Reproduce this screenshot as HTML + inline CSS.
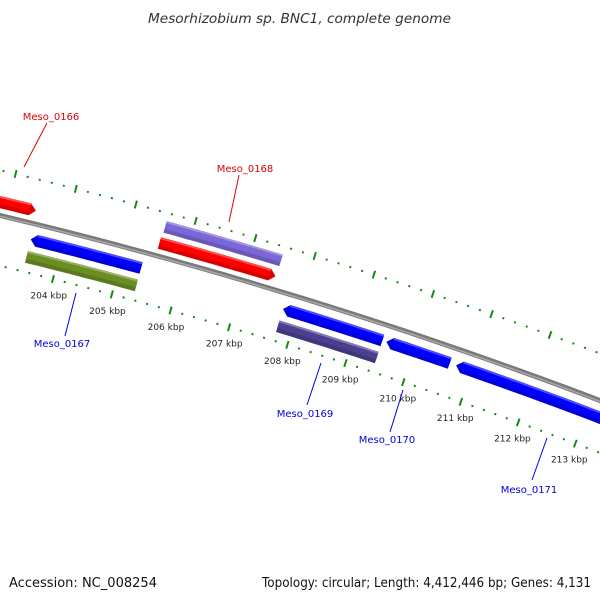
<!DOCTYPE html>
<html><head><meta charset="utf-8"><style>
body{margin:0;background:#fff;width:600px;height:600px;overflow:hidden;font-family:"DejaVu Sans","Liberation Sans",sans-serif}
svg{display:block}
</style></head><body>
<svg id="c" width="600" height="600" viewBox="0 0 600 600">
<text x="148" y="23" textLength="303" lengthAdjust="spacingAndGlyphs" font-size="13" font-style="italic" fill="#333">Mesorhizobium sp. BNC1, complete genome</text>
<text x="9" y="587" textLength="148" lengthAdjust="spacingAndGlyphs" font-size="13" fill="#111">Accession: NC_008254</text>
<text x="262" y="587" textLength="329" lengthAdjust="spacingAndGlyphs" font-size="13" fill="#111">Topology: circular; Length: 4,412,446 bp; Genes: 4,131</text>
<g id="g"></g>
</svg>
<script>
const tickKbp = [204,205,206,207,208,209,210,211,212,213];
const geneNames = ["Meso_0166","Meso_0167","Meso_0167","Meso_0168","Meso_0168","Meso_0169","Meso_0169","Meso_0170","Meso_0171"];
const geneStart = [200.0,203.49,203.49,205.53,205.55,207.76,207.76,209.53,210.73];
const geneEnd   = [203.46,205.35,205.35,207.49,207.50,209.46,209.46,210.62,215.5];
const geneStrand= [1,-1,-1,1,1,-1,-1,-1,-1];
const geneTrack = [1,1,2,1,2,1,2,1,1];
const geneColor = ["#ff0000","#0000ff","#6b8e23","#ff0000","#7b68d8","#0000ff","#4b3f8f","#0000ff","#0000ff"];
const labels = [
 {t:"Meso_0166",c:"#e00000",x:51,y:120,l:[47,123,24,167]},
 {t:"Meso_0168",c:"#e00000",x:245,y:172,l:[239,175,229,222]},
 {t:"Meso_0167",c:"#0000e0",x:62,y:347,l:[76,293,65,336]},
 {t:"Meso_0169",c:"#0000e0",x:305,y:417,l:[321,363,307,405]},
 {t:"Meso_0170",c:"#0000e0",x:387,y:443,l:[403,390,390,432]},
 {t:"Meso_0171",c:"#0000e0",x:529,y:493,l:[547,438,532,480]}
];
const CX=-1146, CY=4996, R=4916, P0=204, PHI0=0.2489, K=0.01251;
function ang(p){return PHI0+(p-P0)*K;}
function pt(p,off){const a=ang(p),r=R+off;return [CX+r*Math.sin(a), CY-r*Math.cos(a)];}
const G=document.getElementById('g');
const NS="http://www.w3.org/2000/svg";
function mk(tag,attrs){const e=document.createElementNS(NS,tag);for(const k in attrs)e.setAttribute(k,attrs[k]);G.appendChild(e);return e;}
function arcPath(p1,p2,off){let d="";for(let i=0;i<=40;i++){const q=pt(p1+(p2-p1)*i/40,off);d+=(i?"L":"M")+q[0].toFixed(1)+","+q[1].toFixed(1);}return d;}
let e=mk('path',{d:arcPath(199,217,0),stroke:"#7a7a7a","stroke-width":5,fill:"none"});


e=mk('path',{d:arcPath(199,217,-0.8),stroke:"#a8a8a8","stroke-width":1.5,fill:"none"});


[[-49,"inner"],[44,"outer"]].forEach(([off,nm])=>{
 for(let p=199;p<=216.01;p+=0.2){
  const pr=Math.round(p*5)/5, major=Math.abs(pr-Math.round(pr))<0.01;
  const a=pt(pr,off+(major?4:1)), b=pt(pr,off-(major?4:1));
  e=mk('line',{x1:a[0],y1:a[1],x2:b[0],y2:b[1],stroke:"#148a14","stroke-width":2});
  
  
 }
});
tickKbp.forEach(k=>{
 const q=pt(k,-66);
 e=mk('text',{x:q[0],y:q[1]+3,"text-anchor":"middle","font-size":"9",fill:"#222"});
 e.textContent=k+" kbp";
 
 
});
function shade(c,f){const n=parseInt(c.slice(1),16);let r=n>>16,g=(n>>8)&255,b=n&255;
 const m=x=>Math.max(0,Math.min(255,Math.round(f>0?x+(255-x)*f:x*(1+f))));return "rgb("+m(r)+","+m(g)+","+m(b)+")";}
geneNames.forEach((nm,i)=>{
 const s=geneStrand[i], tr=geneTrack[i];
 const mid=s>0?(tr==1?13:30):(tr==1?-16:-34);
 const h=6, hd=tr==1?0.1:0;
 const top=mid+h, bot=mid-h;
 let p1=geneStart[i], p2=geneEnd[i];
 const pts=[];
 const N=20;
 if(s>0){
  for(let j=0;j<=N;j++)pts.push(pt(p1+(p2-hd-p1)*j/N,top));
  if(hd)pts.push(pt(p2,mid));
  for(let j=N;j>=0;j--)pts.push(pt(p1+(p2-hd-p1)*j/N,bot));
 } else {
  if(hd)pts.push(pt(p1,mid));
  for(let j=0;j<=N;j++)pts.push(pt(p1+hd+(p2-p1-hd)*j/N,top));
  for(let j=N;j>=0;j--)pts.push(pt(p1+hd+(p2-p1-hd)*j/N,bot));
 }
 const grp=document.createElementNS(NS,'g');G.appendChild(grp);
 
 
 const poly=document.createElementNS(NS,'polygon');
 poly.setAttribute('points',pts.map(q=>q[0].toFixed(1)+","+q[1].toFixed(1)).join(" "));
 poly.setAttribute('fill',shade(geneColor[i],-0.15));
 grp.appendChild(poly);
 const a1=s>0?p1:p1+hd, a2=s>0?p2-hd:p2;
 const band=document.createElementNS(NS,'path');
 band.setAttribute('d',arcPath(a1,a2,top-1.5));
 band.setAttribute('stroke',shade(geneColor[i],0.3));band.setAttribute('stroke-width',3);band.setAttribute('fill','none');
 grp.appendChild(band);
 const band2=document.createElementNS(NS,'path');
 band2.setAttribute('d',arcPath(a1,a2,mid+1));
 band2.setAttribute('stroke',geneColor[i]);band2.setAttribute('stroke-width',6);band2.setAttribute('fill','none');
 grp.appendChild(band2);
});
labels.forEach(L=>{
 e=mk('line',{x1:L.l[0],y1:L.l[1],x2:L.l[2],y2:L.l[3],stroke:L.c,"stroke-width":1});
 
 
 e=mk('text',{x:L.x,y:L.y,"text-anchor":"middle","font-size":"10",fill:L.c});
 e.textContent=L.t;
 
 
});
</script>
</body></html>
